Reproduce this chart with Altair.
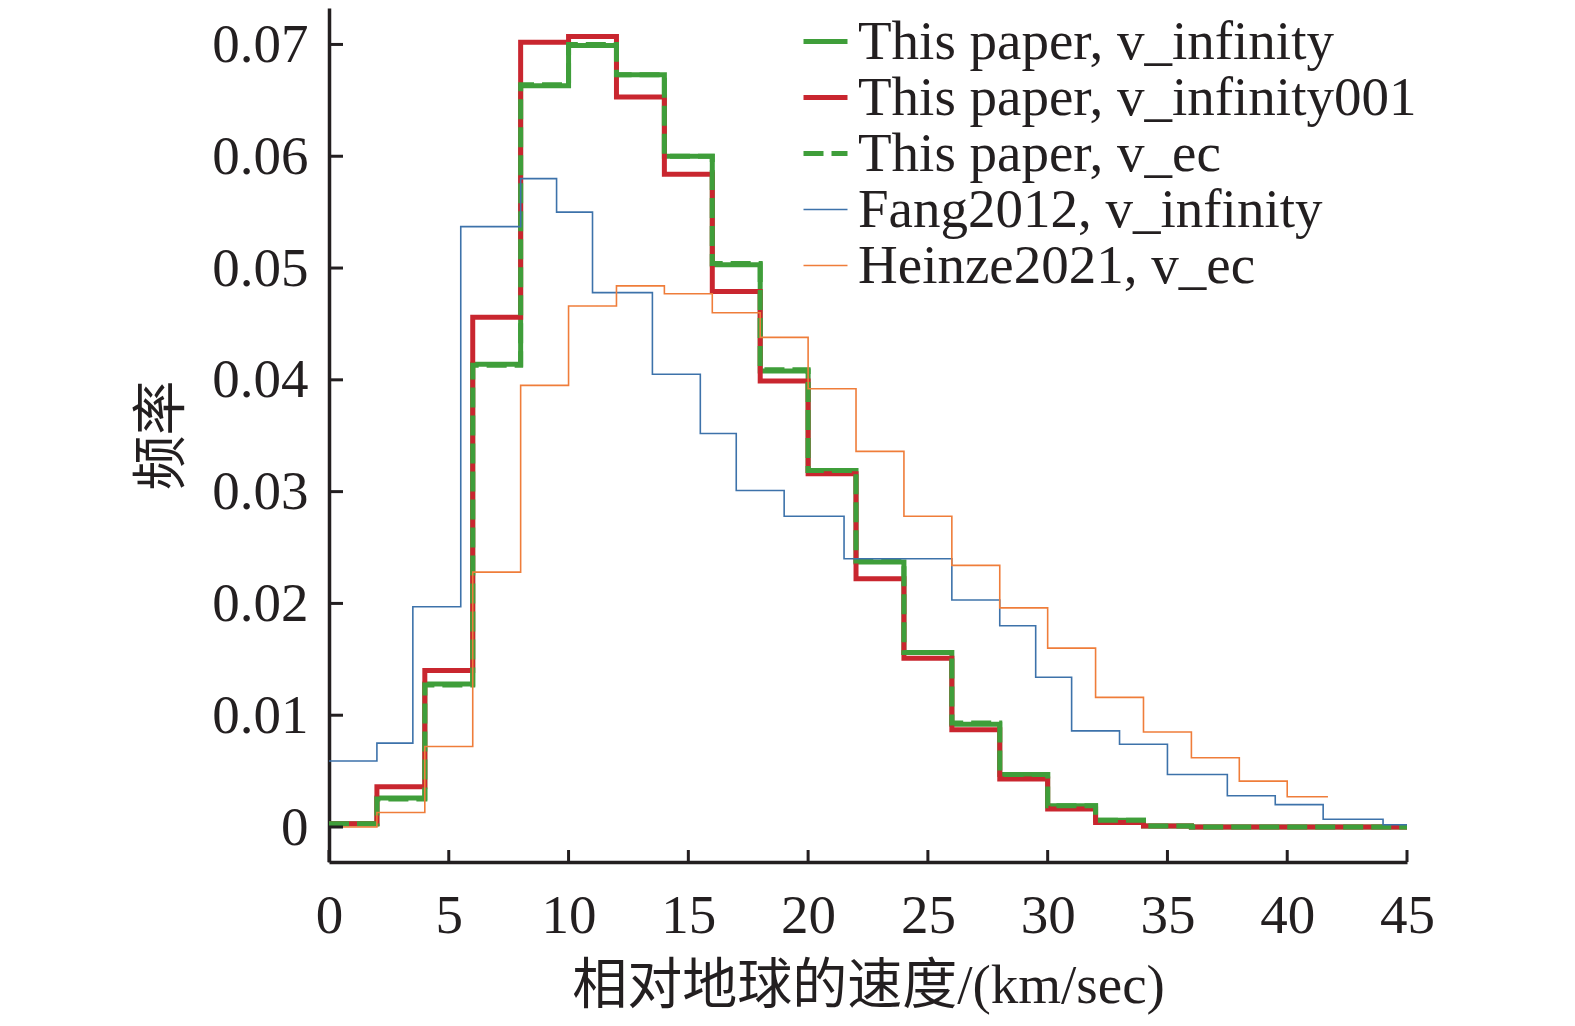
import altair as alt
import pandas as pd

# ---------------- data ----------------
series_names = [
    "This paper, v_infinity",
    "This paper, v_infinity001",
    "This paper, v_ec",
    "Fang2012, v_infinity",
    "Heinze2021, v_ec",
]

# bin edges (km/sec)
edges_paper = [0, 2, 4, 6, 8, 10, 12, 14, 16, 18, 20, 22, 24, 26, 28, 30,
               32, 34, 36, 38, 40, 42, 44, 45]
edges_fang = [0, 2, 3.5, 5.5, 8, 9.5, 11, 13.5, 15.5, 17, 19, 21.5, 26, 28,
              29.5, 31, 33, 35, 37.5, 39.5, 41.5, 44, 45]
edges_heinze = [0, 2, 4, 6, 8, 10, 12, 14, 16, 18, 20, 22, 24, 26, 28, 30,
                32, 34, 36, 38, 40, 41.7]

# frequencies per bin
v_infinity = [0.0003, 0.0026, 0.0128, 0.0414, 0.0663, 0.0699, 0.0673, 0.0600,
              0.0503, 0.0408, 0.0319, 0.0237, 0.0156, 0.0092, 0.0047, 0.0019,
              0.0006, 0.0001, 0.0, 0.0, 0.0, 0.0, 0.0]
v_infinity001 = [0.0003, 0.0036, 0.0140, 0.0456, 0.0702, 0.0707, 0.0653, 0.0584,
                 0.0479, 0.0399, 0.0316, 0.0222, 0.0151, 0.0087, 0.0043, 0.0016,
                 0.0004, 0.0001, 0.0, 0.0, 0.0, 0.0, 0.0]
v_ec = [0.0003, 0.0025, 0.0127, 0.0413, 0.0664, 0.0700, 0.0673, 0.0600,
        0.0504, 0.0409, 0.0319, 0.0238, 0.0156, 0.0093, 0.0047, 0.0019,
        0.0006, 0.0001, 0.0, 0.0, 0.0, 0.0, 0.0]
fang2012 = [0.0059, 0.0075, 0.0197, 0.0537, 0.0580, 0.0550, 0.0478, 0.0405,
            0.0352, 0.0301, 0.0278, 0.0240, 0.0203, 0.0180, 0.0134, 0.0086,
            0.0074, 0.0047, 0.0028, 0.0020, 0.0007, 0.0002]
heinze2021 = [0.0000, 0.0013, 0.0072, 0.0228, 0.0395, 0.0466, 0.0484, 0.0477,
              0.0460, 0.0438, 0.0392, 0.0336, 0.0278, 0.0234, 0.0196, 0.0160,
              0.0116, 0.0085, 0.0062, 0.0041, 0.0027]

x_ticks = [0, 5, 10, 15, 20, 25, 30, 35, 40, 45]
y_ticks = [0, 0.01, 0.02, 0.03, 0.04, 0.05, 0.06, 0.07]

colors = ["#3f9e3a", "#c9262f", "#3f9e3a", "#3d72aa", "#ef7d3a"]
widths = [5, 5, 5, 1.6, 1.6]
dashes = [[1, 0], [1, 0], [20, 8], [1, 0], [1, 0]]

# ---------------- build step table ----------------
rows = []
for name, edges, vals in [
    (series_names[0], edges_paper, v_infinity),
    (series_names[1], edges_paper, v_infinity001),
    (series_names[2], edges_paper, v_ec),
    (series_names[3], edges_fang, fang2012),
    (series_names[4], edges_heinze, heinze2021),
]:
    for i, v in enumerate(vals):
        rows.append({"series": name, "x": edges[i], "y": v, "i": i})
    rows.append({"series": name, "x": edges[len(vals)], "y": vals[-1], "i": len(vals)})
df = pd.DataFrame(rows)

W, H = 1078, 854
FONT = "Liberation Serif, Noto Sans CJK SC"
INK = "#231f20"

xscale = alt.Scale(domain=[0, 45], nice=False, zero=False)
yscale = alt.Scale(domain=[-0.00313, 0.07326], nice=False, zero=False)

xaxis = alt.Axis(values=x_ticks, title="相对地球的速度/(km/sec)", format="d",
                 labelFlush=False, labelOverlap=False, labelPadding=27,
                 titlePadding=16)
yaxis = alt.Axis(values=y_ticks, title="频率",
                 labelExpr="datum.value == 0 ? '0' : format(datum.value, '.2f')",
                 labelFlush=False, labelOverlap=False, labelPadding=21,
                 titlePadding=21)

legend = alt.Legend(
    title=None, orient="none", legendX=469, legendY=6,
    symbolType="stroke", symbolSize=1936, labelFont=FONT, labelFontSize=55,
    labelColor=INK, labelOffset=5, rowPadding=0, padding=0, labelLimit=1000,
)

enc_color = alt.Color("series:N", scale=alt.Scale(domain=series_names, range=colors), legend=legend)
enc_dash = alt.StrokeDash("series:N", scale=alt.Scale(domain=series_names, range=dashes), legend=legend)
enc_width = alt.StrokeWidth("series:N", scale=alt.Scale(type="ordinal", domain=series_names, range=widths), legend=legend)

layers = []
for k, name in enumerate(series_names):
    layers.append(
        alt.Chart(df).transform_filter(alt.datum.series == name)
        .mark_line(interpolate="step-after", strokeCap="butt", strokeJoin="miter")
        .encode(
            x=alt.X("x:Q", scale=xscale, axis=xaxis),
            y=alt.Y("y:Q", scale=yscale, axis=yaxis),
            color=enc_color,
            strokeDash=enc_dash,
            strokeWidth=enc_width,
            order="i:Q",
        )
    )

ytick_df = pd.DataFrame({"v": y_ticks})
xtick_df = pd.DataFrame({"v": x_ticks})
ytick_layer = alt.Chart(ytick_df).mark_rule(color=INK, strokeWidth=3).encode(
    y=alt.Y("v:Q", scale=yscale, axis=yaxis), x=alt.value(0), x2=alt.value(14))
xtick_layer = alt.Chart(xtick_df).mark_rule(color=INK, strokeWidth=3).encode(
    x=alt.X("v:Q", scale=xscale, axis=xaxis), y=alt.value(H), y2=alt.value(H - 12))

chart = alt.layer(*layers, ytick_layer, xtick_layer).properties(
    width=W, height=H,
    background="white",
    autosize=alt.AutoSizeParams(type="none"),
    padding={"left": 321, "top": 0, "right": 150, "bottom": 155},
).configure_view(stroke=None).configure_axis(
    grid=False, ticks=False, domainColor=INK, domainWidth=3.5,
    labelFont=FONT, labelFontSize=55, labelColor=INK,
    titleFont=FONT, titleFontSize=55, titleColor=INK, titleFontWeight="normal",
)

chart.save("out.html", embed_options={"renderer": "svg", "actions": False})
